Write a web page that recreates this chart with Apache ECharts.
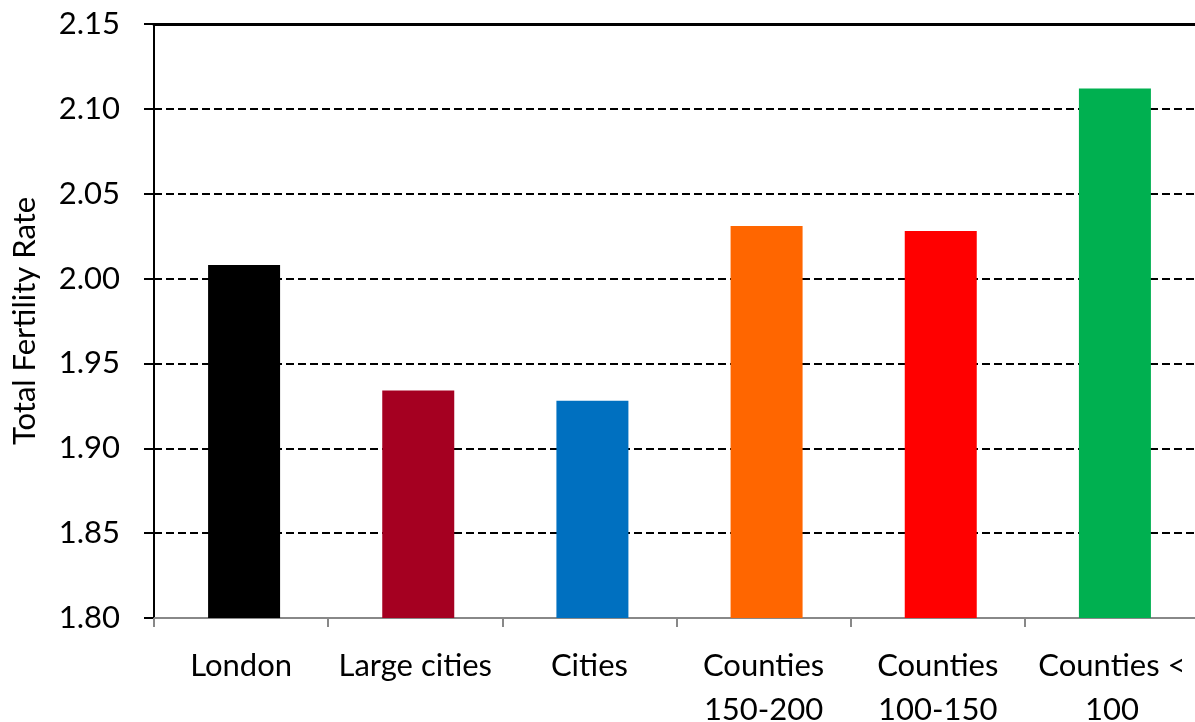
<!DOCTYPE html>
<html>
<head>
<meta charset="utf-8">
<script src="https://cdn.jsdelivr.net/npm/echarts@6/dist/echarts.min.js"></script>
<style>html,body{margin:0;padding:0;background:#fff}#c{width:1195px;height:722px}</style>
</head>
<body>
<div id="c"></div>
<script>
const categories = ["London", "Large cities", "Cities", "Counties\n150-200", "Counties\n100-150", "Counties <\n100"];
const values = [2.008, 1.934, 1.928, 2.031, 2.028, 2.112];
const barColors = ["#000000", "#A50021", "#0070C0", "#FF6600", "#FF0000", "#00B050"];
const yAxisName = "Total Fertility Rate";

const FONT = "Lato";
const FS = 31;
const chart = echarts.init(document.getElementById('c'), null, {renderer: 'canvas'});
chart.setOption({
  animation: false,
  backgroundColor: '#ffffff',
  grid: [
    {left: 154, right: -4, top: 24, bottom: 104, containLabel: false, outerBoundsMode: 'none'},
    {left: 157, right: -7, top: 24, bottom: 104, containLabel: false, outerBoundsMode: 'none'}
  ],
  xAxis: [{
    type: 'category',
    gridIndex: 0,
    data: categories,
    position: 'bottom',
    axisLine: {lineStyle: {color: '#888888', width: 2}},
    axisTick: {show: true, length: 9, lineStyle: {color: '#888888', width: 2}},
    axisLabel: {color: '#000', fontSize: FS, fontFamily: FONT, margin: 26, lineHeight: 44, interval: 0}
  }, {
    type: 'category',
    gridIndex: 0,
    data: categories,
    position: 'top',
    axisLine: {show: true, lineStyle: {color: '#000', width: 3}},
    axisTick: {show: false},
    axisLabel: {show: false}
  }, {
    type: 'category',
    gridIndex: 1,
    data: categories,
    show: false
  }],
  yAxis: [{
    type: 'value',
    gridIndex: 0,
    min: 1.8, max: 2.15, interval: 0.05,
    name: yAxisName,
    nameLocation: 'middle',
    nameGap: 114,
    nameTextStyle: {color: '#000', fontSize: FS, fontFamily: FONT},
    axisLine: {show: true, lineStyle: {color: '#000', width: 2}},
    axisTick: {show: true, length: 10, lineStyle: {color: '#000', width: 2}},
    axisLabel: {color: '#000', fontSize: FS, fontFamily: FONT, margin: 34, formatter: v => v.toFixed(2)},
    splitLine: {show: true, lineStyle: {color: '#000', width: 2, type: [8, 4]}}
  }, {
    type: 'value',
    gridIndex: 1,
    min: 1.8, max: 2.15, interval: 0.05,
    show: false,
    splitLine: {show: false}
  }],
  series: [{
    type: 'bar',
    xAxisIndex: 2,
    yAxisIndex: 1,
    data: values.map((v, i) => ({value: v, itemStyle: {color: barColors[i]}})),
    barWidth: 72
  }]
});
</script>
</body>
</html>
